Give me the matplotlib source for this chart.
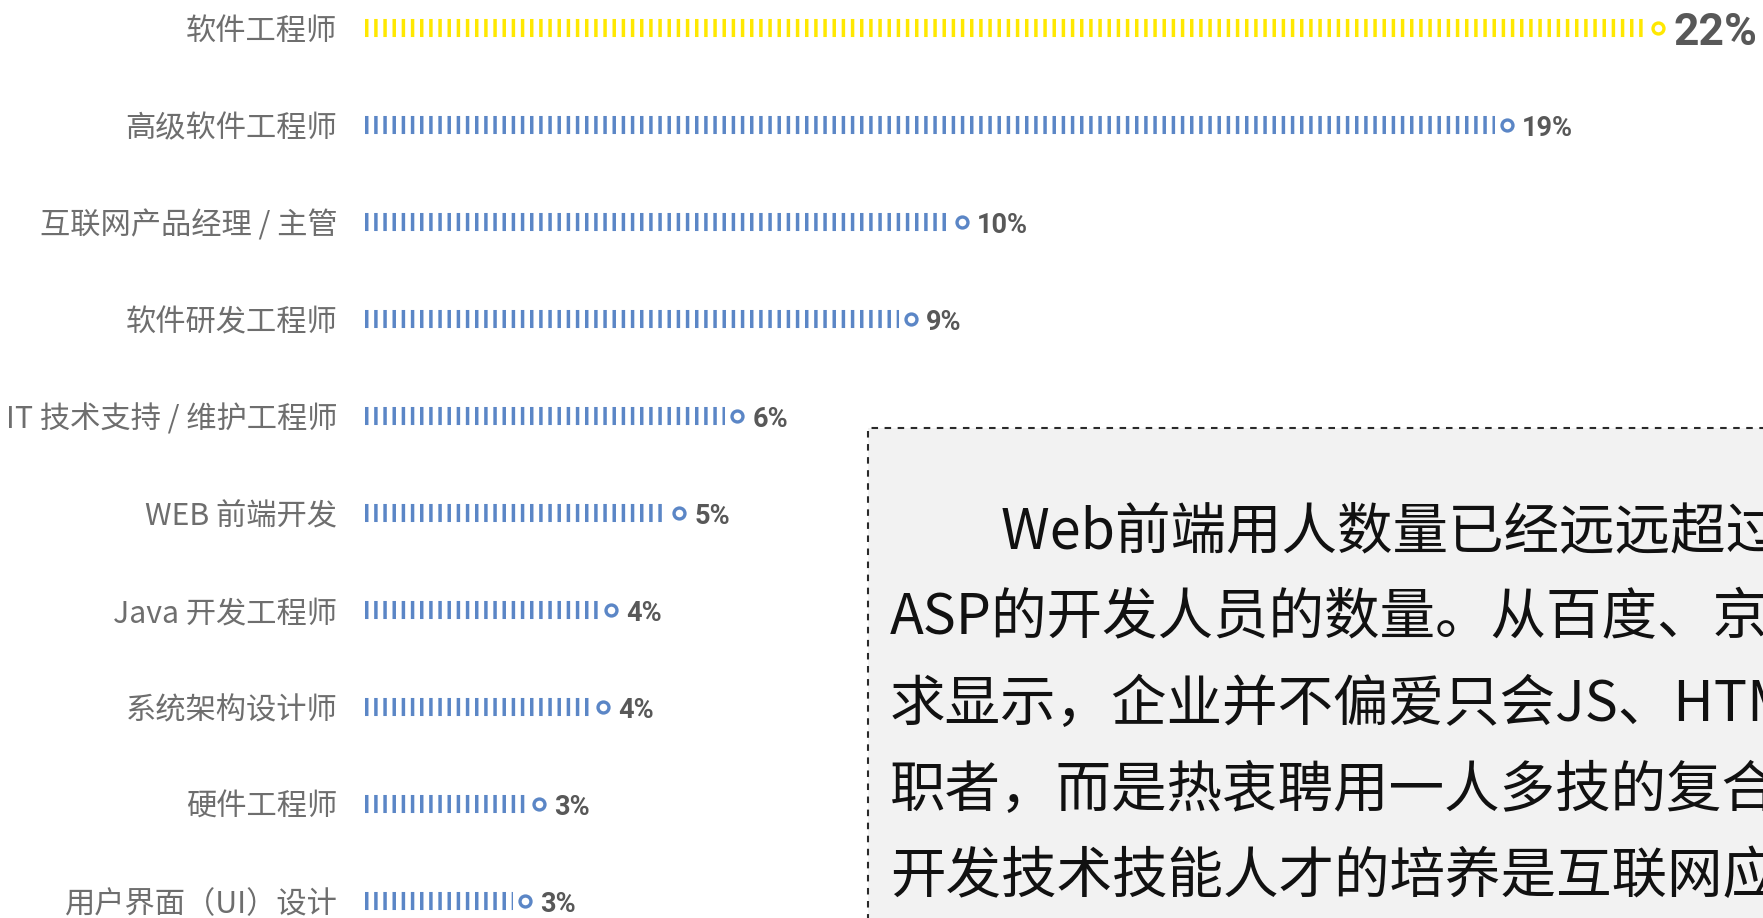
import matplotlib
matplotlib.use("Agg")
import matplotlib.pyplot as plt
from matplotlib.patches import Rectangle

plt.rcParams['font.family'] = ['Noto Sans CJK SC', 'DejaVu Sans']
plt.rcParams['lines.scale_dashes'] = False

# ---- data ----
categories = ["软件工程师", "高级软件工程师", "互联网产品经理 / 主管", "软件研发工程师",
              "IT 技术支持 / 维护工程师", "WEB 前端开发", "Java 开发工程师",
              "系统架构设计师", "硬件工程师", "用户界面（UI）设计"]
values = [21.55, 19.03, 9.95, 9.1, 6.2, 5.23, 4.1, 3.97, 2.9, 2.67]
value_labels = ["22%", "19%", "10%", "9%", "6%", "5%", "4%", "4%", "3%", "3%"]
highlight = [True, False, False, False, False, False, False, False, False, False]

text_lines = ["\u3000\u3000Web前端用人数量已经远远超过",
              "ASP的开发人员的数量。从百度、京",
              "求显示，企业并不偏爱只会JS、HTM",
              "职者，而是热衷聘用一人多技的复合",
              "开发技术技能人才的培养是互联网应"]

W, H = 1763, 918
DPI = 100
fig = plt.figure(figsize=(W / DPI, H / DPI), dpi=DPI)
fig.patch.set_facecolor('white')

# axes: x=0 at pixel 365, 60 px per unit; rows 97 px apart, row0 at y=28 px
x0_px = 365
px_per_unit = 60.0
ax = fig.add_axes([x0_px / W, 0, (W - x0_px) / W, 1])
ax.set_xlim(0, (W - x0_px) / px_per_unit)
ax.set_ylim((H - 28) / 97.0, -28 / 97.0)
ax.axis('off')

YELLOW = '#FFE800'
BLUE = '#5B86C6'
gap = 12 / px_per_unit

for i, (cat, v, lab, hl) in enumerate(zip(categories, values, value_labels, highlight)):
    col = YELLOW if hl else BLUE
    ax.plot([0, v - gap], [i, i], color=col, linewidth=13.0,
            linestyle=(0, (2.5, 4.1)), dash_capstyle='butt', solid_capstyle='butt')
    ax.scatter([v], [i], s=62, facecolor='white', edgecolor=col, linewidths=2.4, zorder=3)
    ax.annotate(lab, (v, i), xytext=(11, 0), textcoords='offset points',
                ha='left', va='center_baseline',
                fontsize=32 if hl else 19.5, fontweight='bold', color='#585858',
                family=['Roboto', 'DejaVu Sans'], annotation_clip=False)
    ax.annotate(cat, (0, i), xytext=(-20, 0), textcoords='offset points',
                ha='right', va='center_baseline', fontsize=21.8, color='#6e6e6e',
                annotation_clip=False)

# dashed text box (lower right)
box_left = 868 / W
box_top = 1 - 428 / H
rect = Rectangle((box_left, -0.2), 1.3 - box_left, box_top + 0.2,
                 transform=fig.transFigure, facecolor='#F2F2F2', edgecolor='#2a2a2a',
                 linewidth=1.5, linestyle=(0, (4.7, 4.7)), zorder=5)
fig.add_artist(rect)

line_y_px = [532, 619, 705, 791, 877]
for ln, ypx in zip(text_lines, line_y_px):
    fig.text(890 / W, 1 - ypx / H, ln, ha='left', va='center', fontsize=40,
             color='#111111', zorder=6)

fig.savefig('out.png', dpi=DPI, facecolor='white')
